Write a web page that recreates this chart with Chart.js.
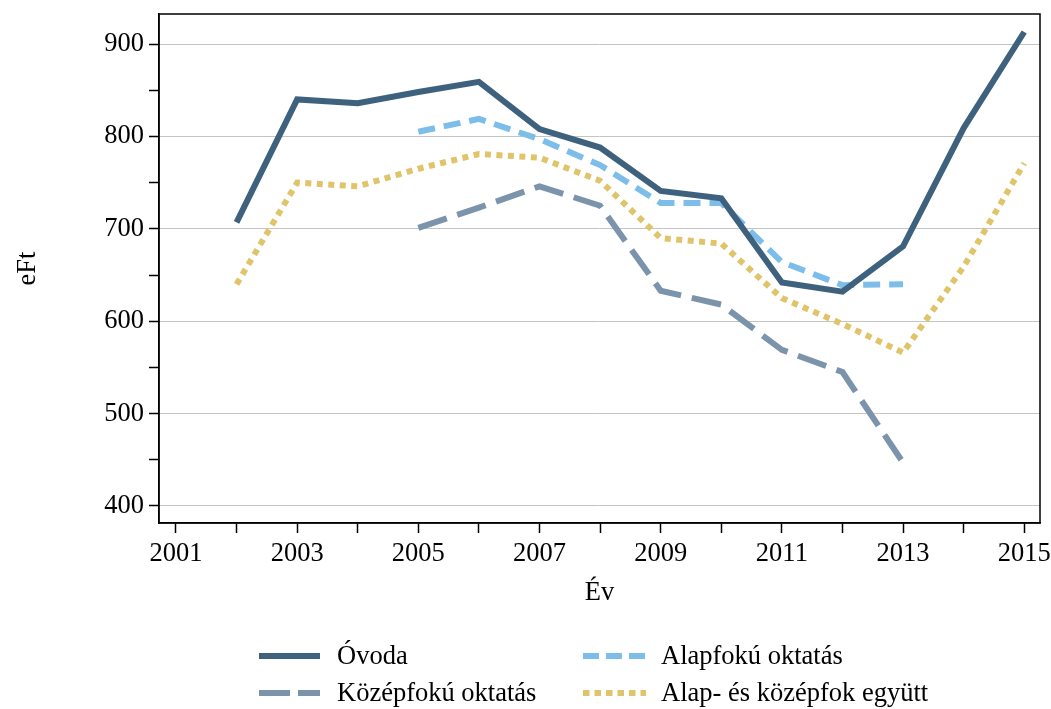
<!DOCTYPE html>
<html>
<head>
<meta charset="utf-8">
<script src="https://cdn.jsdelivr.net/npm/chart.js@4"></script>
<style>
  html, body { margin: 0; padding: 0; background: #fff; }
  #wrap { width: 1051px; height: 709px; }
</style>
</head>
<body>
<div id="wrap"><canvas id="c" width="1051" height="709"></canvas></div>
<script>
const years = [2002, 2003, 2004, 2005, 2006, 2007, 2008, 2009, 2010, 2011, 2012, 2013, 2014, 2015];
const ovoda = [707, 840, 836, 848, 859, 808, 788, 741, 733, 642, 632, 681, 809, 913];
const alapYears = [2005, 2006, 2007, 2008, 2009, 2010, 2011, 2012, 2013];
const alapfoku = [805, 819, 797, 769, 728, 728, 664, 639, 640];
const kozepYears = [2005, 2006, 2007, 2008, 2009, 2010, 2011, 2012, 2013];
const kozepfoku = [701, 723, 746, 725, 633, 618, 569, 545, 447];
const egyutt = [640, 750, 746, 765, 781, 777, 752, 690, 684, 625, 597, 566, 659, 771];
const xTicks = [2001, 2002, 2003, 2004, 2005, 2006, 2007, 2008, 2009, 2010, 2011, 2012, 2013, 2014, 2015];
const yTicks = [400, 450, 500, 550, 600, 650, 700, 750, 800, 850, 900];
const seriesNames = ['Óvoda', 'Alapfokú oktatás', 'Középfokú oktatás', 'Alap- és középfok együtt'];

const FONT = '"Liberation Serif", "Times New Roman", serif';
const FS = 26.5;
const pts = (xs, ys) => xs.map((x, i) => ({ x: x, y: ys[i] }));

const frame = {
  id: 'frame',
  afterDatasetsDraw(chart) {
    const a = chart.chartArea, ctx = chart.ctx;
    ctx.save();
    ctx.strokeStyle = '#000';
    ctx.lineWidth = 1.5;
    ctx.strokeRect(a.left, a.top, a.right - a.left, a.bottom - a.top);
    ctx.restore();
  }
};

const gridLegend = {
  id: 'gridLegend',
  afterDraw(chart) {
    const ctx = chart.ctx;
    const order = [0, 1, 2, 3];
    const cols = [{ x0: 259, x1: 320, tx: 337 }, { x0: 583, x1: 646, tx: 661 }];
    const rows = [656, 693];
    ctx.save();
    order.forEach((di, k) => {
      const ds = chart.data.datasets[di];
      const c = cols[k % 2], y = rows[Math.floor(k / 2)];
      ctx.strokeStyle = ds.borderColor;
      ctx.lineWidth = ds.borderWidth;
      ctx.lineCap = 'butt';
      ctx.setLineDash(ds.legendDash || []);
      ctx.beginPath();
      ctx.moveTo(c.x0, y);
      ctx.lineTo(c.x1, y);
      ctx.stroke();
      ctx.setLineDash([]);
      ctx.fillStyle = '#000';
      ctx.font = FS + 'px ' + FONT;
      ctx.textBaseline = 'middle';
      ctx.textAlign = 'left';
      ctx.fillText(ds.label, c.tx, y + 1);
    });
    ctx.restore();
  }
};

new Chart(document.getElementById('c'), {
  type: 'line',
  data: {
    datasets: [
      { label: seriesNames[0], data: pts(years, ovoda), borderColor: '#3e627d', borderWidth: 6, borderDash: [], legendDash: [] },
      { label: seriesNames[1], data: pts(alapYears, alapfoku), borderColor: '#7dbde9', borderWidth: 6, borderDash: [17, 9], legendDash: [16, 7] },
      { label: seriesNames[2], data: pts(kozepYears, kozepfoku), borderColor: '#7c94ab', borderWidth: 6, borderDash: [30, 11], legendDash: [31, 8] },
      { label: seriesNames[3], data: pts(years, egyutt), borderColor: '#dfc46a', borderWidth: 6, borderDash: [6, 5.5], legendDash: [6.5, 5] }
    ]
  },
  options: {
    responsive: false,
    animation: false,
    devicePixelRatio: 1,
    layout: { padding: { left: 0, top: 14, right: 11, bottom: 100 } },
    elements: {
      point: { radius: 0, hoverRadius: 0 },
      line: { tension: 0, fill: false, borderJoinStyle: 'miter', borderCapStyle: 'butt' }
    },
    plugins: { legend: { display: false }, tooltip: { enabled: false } },
    scales: {
      x: {
        type: 'linear',
        min: 2000.72,
        max: 2015.26,
        afterBuildTicks: s => { s.ticks = xTicks.map(v => ({ value: v })); },
        afterFit: s => { s.height = 86; s.paddingLeft = 0; s.paddingRight = 0; },
        grid: { drawOnChartArea: false, drawTicks: true, tickLength: 10, tickColor: '#000', tickWidth: 1.5 },
        border: { display: true, color: '#000', width: 1.5 },
        ticks: {
          autoSkip: false, maxRotation: 0, padding: 5, color: '#000',
          font: { family: FONT, size: FS },
          callback: v => (v % 2 === 1 ? String(v) : '')
        },
        title: { display: true, text: 'Év', color: '#000', font: { family: FONT, size: FS }, padding: { top: 0, bottom: 0 } }
      },
      y: {
        type: 'linear',
        min: 381.6,
        max: 932.5,
        afterBuildTicks: s => { s.ticks = yTicks.map(v => ({ value: v })); },
        afterFit: s => { s.width = 159; s.paddingTop = 0; s.paddingBottom = 0; },
        grid: {
          drawOnChartArea: true, drawTicks: true, tickLength: 10, tickColor: '#000', tickWidth: 1.5,
          color: c => (c.tick && c.tick.value % 100 === 0 ? '#c4c4c4' : 'rgba(0,0,0,0)'),
          lineWidth: 1
        },
        border: { display: true, color: '#000', width: 1.5 },
        ticks: {
          autoSkip: false, padding: 5, color: '#000',
          font: { family: FONT, size: FS },
          callback: v => (v % 100 === 0 ? String(v) : '')
        },
        title: { display: true, text: 'eFt', color: '#000', font: { family: FONT, size: FS }, padding: { top: 12, bottom: 0 } }
      }
    }
  },
  plugins: [frame, gridLegend]
});
</script>
</body>
</html>
